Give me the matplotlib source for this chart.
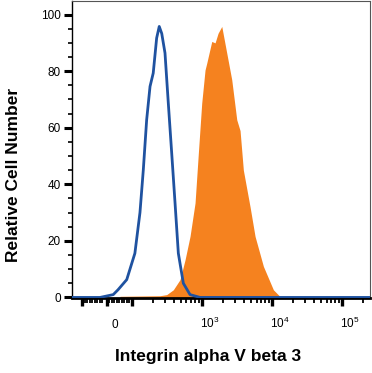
import numpy as np
import matplotlib
matplotlib.use("Agg")
import matplotlib.pyplot as plt
from matplotlib.transforms import ScaledTranslation

plt.rcParams['font.family'] = ['Liberation Sans', 'DejaVu Sans']
plt.rcParams['mathtext.fontset'] = 'custom'
plt.rcParams['mathtext.rm'] = 'Liberation Sans'
plt.rcParams['mathtext.it'] = 'Liberation Sans'

# isotype control (blue outline)
ctrl_x = [-139, -28, 25, 44, 79, 110, 130, 145, 162, 181, 201, 225, 245, 266, 296,
          330, 369, 412, 459, 541, 674, 937, 2.5e5]
ctrl_y = [0, 0, 1, 2.7, 6.3, 15.6, 30, 45, 62.8, 74.6, 79.3, 91.7, 95.8, 93.3, 86.4,
          68.7, 51, 33.3, 15.6, 5, 1, 0, 0]

# stained cells (orange fill)
stain_x = [52, 251, 313, 389, 485, 572, 674, 795, 886, 990, 1104, 1167, 1377, 1535,
           1694, 1914, 2254, 2655, 3133, 3491, 3891, 4853, 5715, 7516, 10440, 13000, 14360]
stain_y = [0.4, 0.6, 1, 2.7, 6.3, 13.3, 21.6, 33.4, 51, 68.7, 80.4, 82.8, 90.5, 90,
           93.4, 95.8, 86.4, 77, 62.8, 59, 45, 32, 21.6, 11, 2.7, 0.3, 0]

major_x = [-100, 0, 100, 1000, 10000, 100000]
major_lbl = ['', '0', '', r'$\mathregular{10^3}$', r'$\mathregular{10^4}$', r'$\mathregular{10^5}$']
minor_x = ([-v for v in range(20, 100, 10)] + list(range(10, 100, 10))
           + [m * 10 ** k for k in (2, 3, 4) for m in range(2, 10)] + [200000])

fig = plt.figure(figsize=(3.72, 3.73), dpi=100)
ax = fig.add_axes([72/372, 1 - 298/373, 298/372, 297/373])

ax.fill_between(stain_x, stain_y, 0, color='#f5821f', lw=0, zorder=2)
ax.plot(ctrl_x, ctrl_y, color='#1f52a0', lw=2.0, zorder=3)

ax.set_xscale('symlog', linthresh=100, linscale=0.321)
ax.set_xlim(-139, 2.5e5)
ax.set_ylim(-0.2, 104.8)

ax.set_xticks(major_x)
ax.set_xticks(minor_x, minor=True)
ax.set_xticklabels(major_lbl, fontsize=8.5)
ax.xaxis.set_minor_formatter(plt.NullFormatter())
ax.set_yticks(range(0, 101, 20))
ax.set_yticks(range(0, 101, 5), minor=True)
ax.tick_params(axis='y', which='major', length=6, width=2.2, pad=2, labelsize=8.5)
ax.tick_params(axis='y', which='minor', length=3, width=1.2)
ax.tick_params(axis='x', which='major', length=6, width=2.4, pad=15.8)
ax.tick_params(axis='x', which='minor', length=3.8, width=1.3)

off = ScaledTranslation(8/100, 0, fig.dpi_scale_trans)
for lab in ax.get_xticklabels():
    lab.set_va('baseline')
    lab.set_transform(lab.get_transform() + off)

ax.spines['left'].set_linewidth(1.0)
ax.spines['bottom'].set_linewidth(2.0)
ax.spines['top'].set_linewidth(0.8)
ax.spines['right'].set_linewidth(0.8)
ax.spines['top'].set_color('#555555')
ax.spines['right'].set_color('#555555')

ax.set_xlabel('Integrin alpha V beta 3', fontsize=12.5, fontweight='bold')
ax.xaxis.set_label_coords((208-72)/298, -0.171)
ax.set_ylabel('Relative Cell Number', fontsize=12.5, fontweight='bold')
ax.yaxis.set_label_coords(-0.172, (298-175)/297)

fig.savefig('out.png', dpi=100)
